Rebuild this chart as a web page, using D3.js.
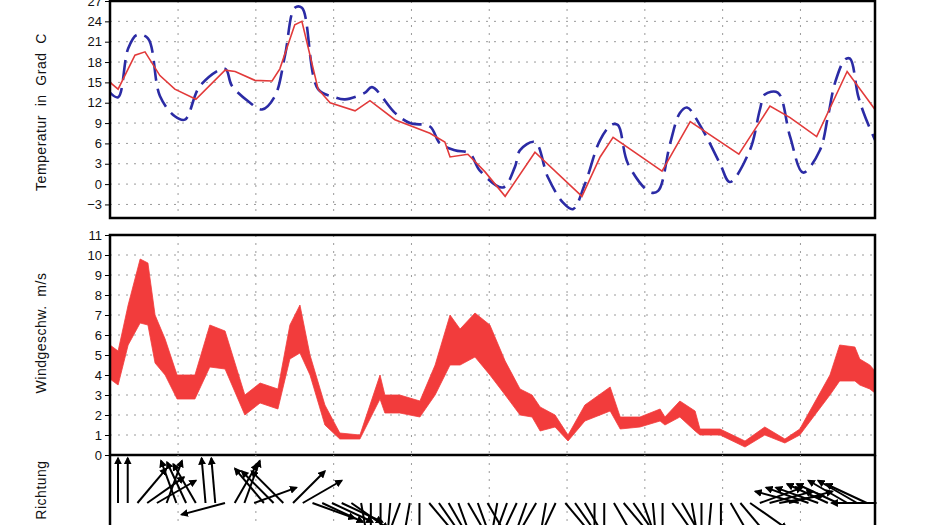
<!DOCTYPE html>
<html>
<head>
<meta charset="utf-8">
<script src="https://cdn.jsdelivr.net/npm/d3@7"></script>
<style>
  body { margin: 0; background: #fff; }
  svg { display: block; font-family: "Liberation Sans", Arial, sans-serif; }
  .grid line { stroke: #9a9a9a; stroke-dasharray: 2,6; stroke-width: 1; }
  .tick text { font-size: 13px; fill: #111; }
  .label { font-size: 14px; fill: #111; letter-spacing: 0.5px; }
</style>
</head>
<body>
<script>
// hours since start of the plotted period
var tempHours = [0, 2.5, 7.7, 10.8, 15.4, 20, 26.5, 35.5, 38.6, 44.7, 50, 52.4, 57, 59.2, 64.2, 67.9, 75.6, 80.2, 87.9, 98.7, 103.3, 104.9, 110.4, 115.7, 121.9, 131.1, 145.6, 151.2, 155.2, 170.3, 179, 194, 203.6, 209.8, 218, 227.4, 236];
var tempMax = [15, 14, 19, 19.5, 16, 14, 12.5, 16.8, 16.6, 15.3, 15.2, 17, 23.5, 24, 14, 12, 10.8, 12.3, 9.5, 7.5, 6.2, 4, 4.4, 1.8, -1.8, 4.7, -1.8, 4, 6.9, 1.9, 9.2, 4.4, 11.5, 9.8, 7, 16.6, 11];

var minHours = [0, 2.5, 5.6, 8.3, 11.7, 15.4, 20, 23.1, 27.8, 35.5, 37.6, 43.2, 46.9, 50.9, 54, 57, 59.2, 64.2, 69.4, 72.5, 78.7, 80.8, 87.9, 92.5, 98.7, 101.8, 106.4, 111, 114.1, 121.2, 124.9, 126.5, 131.1, 135.1, 139.7, 142.8, 146.5, 151.2, 154.9, 156.7, 159.8, 166.6, 169.1, 172.8, 175.8, 178, 182, 188.2, 191.2, 197.4, 200.5, 202, 206, 209.8, 213.8, 219, 221.5, 223.7, 226.8, 228.3, 230.8, 232.9, 236];
var tempMin = [13.5, 12.8, 20, 22, 21.5, 13, 10, 9.5, 14.5, 17, 14.5, 12, 11, 13, 19, 26, 26, 14, 12.8, 12.5, 13.5, 14.3, 10.5, 9, 8.5, 6, 5, 4.5, 2, -0.5, 2.5, 5, 6.2, 1, -2.7, -3.7, 0, 6.5, 8.8, 8.7, 3, -1.2, -1, 6, 10.5, 11.3, 8.7, 3, 0.3, 5, 11, 13.2, 13.5, 7, 1.7, 5, 10, 15, 18.4, 18.5, 13, 10, 6.5];

var windHours = [0, 2.5, 5.6, 9.3, 11.7, 13.9, 17, 20.7, 26.2, 30.8, 35.5, 41.6, 46.3, 51.8, 55.5, 58.6, 61.7, 66.3, 70.9, 77.1, 83.3, 84.8, 89.4, 95.6, 100.3, 104.9, 108, 112.6, 117.2, 121.9, 126.5, 130.2, 132.7, 137.3, 141.3, 146.5, 154.3, 157.4, 163.5, 169.7, 171.2, 175.8, 180.5, 182, 188.2, 195.9, 202, 208.2, 212.8, 222.1, 225.1, 229.8, 231.3, 234.4, 236];
var windLow = [3.8, 3.5, 5.5, 6.6, 6.5, 4.6, 4, 2.8, 2.8, 4.4, 4.3, 2, 2.6, 2.3, 4.8, 5.1, 4, 1.5, 0.8, 0.8, 2.8, 2.1, 2.1, 1.9, 3, 4.5, 4.5, 4.9, 4, 3, 2, 1.9, 1.2, 1.4, 0.7, 1.7, 2.2, 1.3, 1.4, 1.7, 1.5, 1.9, 1.2, 1, 1, 0.4, 1, 0.6, 1, 3, 3.7, 3.7, 3.5, 3.3, 3.1];
var windHigh = [5.5, 5.2, 7.5, 9.8, 9.6, 7, 5.8, 4, 4, 6.5, 6.2, 3, 3.6, 3.3, 6.5, 7.5, 5, 2.5, 1.1, 1.0, 4, 3, 3, 2.7, 4.5, 7, 6.3, 7.1, 6.5, 4.7, 3.3, 3, 2.4, 2, 1, 2.5, 3.4, 1.9, 1.9, 2.3, 1.9, 2.7, 2.2, 1.3, 1.3, 0.7, 1.4, 0.8, 1.3, 4, 5.5, 5.4, 4.8, 4.5, 4.2];

// wind direction every 3 hours, degrees counter-clockwise from east (90 = arrow up)
var dirHours = d3.range(0, 237, 3);
var windDir = [90, 90, 50, 35, 30, 70, 110, 115, 120, 95, 95, 195, 60, 70, 20, 130, 135, 135, 45, 30,
  -20, -25, -25, -25, -35, -80, -90, -90, -95, -110, -100, -90, -50, -55, -60, -70, -60, -70, -60, -100,
  -110, -115, -110, -120, -100, -115, -50, -55, -60, -90, -90, -60, -50, -55, -70, -85, -90, -55, -60, -80,
  -90, -95, -90, -60, -50, -35, 20, 15, 10, 15, 165, 160, 160, 155, 155, 150, 150, 155, 180];

var gridHours = d3.range(21, 236, 24);

var W = 930, H = 525;
var left = 110, right = 875;

var svg = d3.select("body").append("svg").attr("width", W).attr("height", H);

var x = d3.scaleLinear().domain([0, 236]).range([left, right]);
var yT = d3.scaleLinear().domain([-5, 27]).range([218, 1]);
var yW = d3.scaleLinear().domain([0, 11]).range([455, 235]);

function drawGrid(y, ticks, top, bottom) {
  var g = svg.append("g").attr("class", "grid");
  g.selectAll("line.h").data(ticks).enter().append("line")
    .attr("x1", left).attr("x2", right)
    .attr("y1", y).attr("y2", y);
  g.selectAll("line.v").data(gridHours).enter().append("line")
    .attr("x1", x).attr("x2", x)
    .attr("y1", top).attr("y2", bottom);
}

// temperature panel
var tTicks = d3.range(-3, 28, 3);
drawGrid(function(d) { return yT(d); }, tTicks.filter(function(d) { return d < 27; }), 1, 218);

svg.append("clipPath").attr("id", "clipT").append("rect")
  .attr("x", left).attr("y", 0).attr("width", right - left).attr("height", 218);

svg.append("path")
  .datum(d3.zip(minHours, tempMin))
  .attr("clip-path", "url(#clipT)")
  .attr("d", d3.line().curve(d3.curveCatmullRom.alpha(0.5))
    .x(function(d) { return x(d[0]); }).y(function(d) { return yT(d[1]); }))
  .attr("fill", "none").attr("stroke", "#2b2ba5")
  .attr("stroke-width", 2.6).attr("stroke-dasharray", "20,8");
svg.append("path")
  .datum(d3.zip(tempHours, tempMax))
  .attr("d", d3.line().x(function(d) { return x(d[0]); }).y(function(d) { return yT(d[1]); }))
  .attr("fill", "none").attr("stroke", "#e23a3a").attr("stroke-width", 1.6);

svg.append("g").attr("transform", "translate(" + left + ",0)")
  .call(d3.axisLeft(yT).tickValues(tTicks).tickSize(5).tickPadding(3))
  .call(function(g) { g.select(".domain").remove(); });
svg.append("rect").attr("x", left).attr("y", 1).attr("width", right - left).attr("height", 217)
  .attr("fill", "none").attr("stroke", "#000").attr("stroke-width", 2.5);

// wind speed panel
var wTicks = d3.range(0, 12);
drawGrid(function(d) { return yW(d); }, wTicks.filter(function(d) { return d > 0 && d < 11; }), 235, 455);

var area = d3.area()
  .x(function(d) { return x(d[0]); })
  .y0(function(d) { return yW(d[1]); })
  .y1(function(d) { return yW(d[2]); });
svg.append("path")
  .datum(d3.zip(windHours, windLow, windHigh))
  .attr("d", area)
  .attr("fill", "#f23c3c").attr("stroke", "#f23c3c").attr("stroke-width", 0.8);

svg.append("g").attr("transform", "translate(" + left + ",0)")
  .call(d3.axisLeft(yW).tickValues(wTicks).tickSize(5).tickPadding(3))
  .call(function(g) { g.select(".domain").remove(); });
svg.append("rect").attr("x", left).attr("y", 235).attr("width", right - left).attr("height", 220)
  .attr("fill", "none").attr("stroke", "#000").attr("stroke-width", 2.5);

// direction panel
drawGrid(function() { return -10; }, [], 455, 525);
var baseY = 503, len = 45;
svg.append("defs").append("marker")
  .attr("id", "head").attr("viewBox", "0 0 10 10").attr("refX", 8).attr("refY", 5)
  .attr("markerWidth", 4).attr("markerHeight", 4).attr("orient", "auto")
  .append("path").attr("d", "M0,0L10,5L0,10z").attr("fill", "#000");

svg.append("g").selectAll("line").data(d3.zip(dirHours, windDir)).enter().append("line")
  .attr("x1", function(d) { return x(d[0]) + 8; })
  .attr("y1", baseY)
  .attr("x2", function(d) { return x(d[0]) + 8 + len * Math.cos(d[1] * Math.PI / 180); })
  .attr("y2", function(d) { return baseY - len * Math.sin(d[1] * Math.PI / 180); })
  .attr("stroke", "#000").attr("stroke-width", 2)
  .attr("marker-end", "url(#head)");

svg.append("line").attr("x1", left).attr("x2", left).attr("y1", 455).attr("y2", 525)
  .attr("stroke", "#000").attr("stroke-width", 2.5);
svg.append("line").attr("x1", right).attr("x2", right).attr("y1", 455).attr("y2", 525)
  .attr("stroke", "#000").attr("stroke-width", 2.5);

// axis titles
function vLabel(txt, cx, cy) {
  svg.append("text").attr("class", "label")
    .attr("transform", "translate(" + cx + "," + cy + ") rotate(-90)")
    .attr("text-anchor", "middle").style("white-space", "pre")
    .text(txt);
}
vLabel("Temperatur  in  Grad  C", 46, 112);
vLabel("Windgeschw.  m/s", 46, 333);
vLabel("Richtung", 46, 490);
</script>
</body>
</html>
